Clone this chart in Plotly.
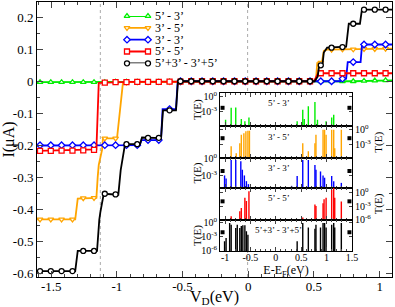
import plotly.graph_objects as go

FONT = "Liberation Serif"

# ---------------- main panel data ----------------
SERIES = ["5’ - 3’", "3’ - 5’", "3’ - 3’", "5’ - 5’", "5’+3’ - 3’+5’"]
COLORS = ["#00ee00", "#ffa500", "#0000ff", "#ff0000", "#000000"]
SYMBOLS = ["triangle-up", "triangle-down", "diamond", "square", "circle"]

# bias values where markers are drawn
V_MARK = [-1.585, -1.503, -1.421, -1.338, -1.256, -1.174, -1.092, -1.010, -0.927, -0.845,
          -0.763, -0.681, -0.599, -0.516, -0.434, -0.352, -0.270, -0.188, -0.105, -0.023,
          0.059, 0.141, 0.223, 0.306, 0.388, 0.470, 0.552, 0.634, 0.717, 0.799,
          0.881, 0.963, 1.045]

I_MARK_53 = [-0.003, -0.003, -0.003, -0.003, -0.003, -0.003, -0.003, -0.002, -0.002, -0.002,
             -0.002, -0.002, -0.001, -0.001, -0.001, -0.001, -0.001, 0.0, 0.0, 0.0,
             0.0, 0.0, 0.0, 0.0, 0.0, 0.0, 0.0, 0.0, 0.0, 0.0,
             0.001, 0.002, 0.003]
I_MARK_35 = [-0.432, -0.432, -0.432, -0.432, -0.366, -0.365, -0.179, -0.179, -0.004, -0.003,
             -0.003, -0.002, -0.002, -0.002, -0.001, -0.001, 0.0, 0.0, 0.0, 0.0,
             0.0, 0.0, 0.0, 0.0, 0.0, 0.0, 0.058, 0.099, 0.100, 0.100,
             0.101, 0.101, 0.102]
I_MARK_33 = [-0.200, -0.200, -0.200, -0.200, -0.200, -0.200, -0.200, -0.200, -0.200, -0.200,
             -0.184, -0.184, -0.087, 0.0, 0.0, 0.0, 0.0, 0.0, 0.0, 0.0,
             0.0, 0.0, 0.0, 0.0, 0.0, 0.0, 0.0, 0.0, 0.008, 0.060,
             0.115, 0.115, 0.115]
I_MARK_55 = [-0.218, -0.218, -0.217, -0.217, -0.216, -0.215, -0.004, -0.003, -0.003, -0.002,
             -0.002, -0.002, -0.001, -0.001, 0.0, 0.0, 0.0, 0.0, 0.0, 0.0,
             0.0, 0.0, 0.0, 0.0, 0.0, 0.0, 0.025, 0.025, 0.025, 0.025,
             0.025, 0.025, 0.025]
I_MARK_ALL = [-0.594, -0.594, -0.594, -0.594, -0.531, -0.531, -0.352, -0.354, -0.197, -0.197,
              -0.177, -0.177, -0.091, 0.0, 0.0, 0.0, 0.0, 0.0, 0.0, 0.0,
              0.0, 0.0, 0.0, 0.0, 0.0, 0.0, 0.050, 0.105, 0.107, 0.180,
              0.224, 0.224, 0.224]

# full I-V curves
V_53 = [-1.61, -0.5, 0.5, 0.8, 1.094]
I_53 = [-0.003, -0.001, 0.0, 0.0, 0.003]

V_35 = [-1.61, -1.317, -1.298, -1.156, -1.146, -1.138, -1.113, -1.106, -0.999, -0.954,
        -0.9, 0.50, 0.515, 0.525, 0.56, 0.575, 0.597, 1.094]
I_35 = [-0.432, -0.432, -0.367, -0.365, -0.30, -0.262, -0.215, -0.179, -0.179, -0.005,
        -0.003, 0.0, 0.003, 0.057, 0.058, 0.095, 0.099, 0.102]

V_33 = [-1.61, -0.826, -0.812, -0.664, -0.652, -0.550, -0.537, 0.70, 0.711, 0.745,
        0.757, 0.855, 0.866, 1.094]
I_33 = [-0.201, -0.200, -0.184, -0.184, -0.087, -0.087, 0.0, 0.0, 0.008, 0.008,
        0.060, 0.060, 0.115, 0.115]

V_55 = [-1.61, -1.17, -1.156, -1.138, -0.9, 0.50, 0.515, 0.522, 0.532, 1.094]
I_55 = [-0.218, -0.215, -0.213, -0.005, -0.002, 0.0, 0.012, 0.013, 0.025, 0.025]

V_ALL = [-1.61, -1.317, -1.298, -1.151, -1.134, -1.126, -1.100, -0.989, -0.971, -0.938,
         -0.824, -0.809, -0.664, -0.649, -0.550, -0.535, 0.505, 0.52, 0.528, 0.54,
         0.565, 0.575, 0.59, 0.60, 0.745, 0.765, 0.85, 0.865, 1.094]
I_ALL = [-0.594, -0.594, -0.531, -0.531, -0.434, -0.41, -0.352, -0.355, -0.278, -0.197,
         -0.197, -0.176, -0.178, -0.091, -0.091, 0.0, 0.0, 0.012, 0.014, 0.050,
         0.052, 0.090, 0.100, 0.105, 0.108, 0.180, 0.180, 0.224, 0.224]

V_LINES = [V_53, V_35, V_33, V_55, V_ALL]
I_LINES = [I_53, I_35, I_33, I_55, I_ALL]
I_MARKS = [I_MARK_53, I_MARK_35, I_MARK_33, I_MARK_55, I_MARK_ALL]

V_DOTTED = [-1.126, -0.005]

X_TICKS = [-1.5, -1.0, -0.5, 0.0, 0.5, 1.0]
X_TICKTEXT = ["-1.5", "-1", "-0.5", "0", "0.5", "1"]
Y_TICKS = [-0.6, -0.5, -0.4, -0.3, -0.2, -0.1, 0.0, 0.1, 0.2]
Y_TICKTEXT = ["-0.6", "-0.5", "-0.4", "-0.3", "-0.2", "-0.1", "0", "0.1", "0.2"]

# ---------------- inset: transmission spectra ----------------
P1_E = [-0.99, -0.88, -0.79, -0.68, -0.61, -0.53, 0.42, 0.53, 0.56, 0.64, 0.77, 0.82, 0.99, 1.10, 1.14]
P1_T = [2e-5, 5e-3, 6e-3, 3e-5, 1e-5, 6e-5, 1e-5, 2e-3, 3e-5, 1e-2, 7e-2, 2e-5, 1e-5, 6e-5, 2e-4]

P2_E = [-0.88, -0.78, -0.71, -0.68, -0.63, -0.59, -0.55, -0.52, 0.53, 0.64, 0.77, 0.79,
        0.93, 0.96, 0.99, 1.10, 1.14, 1.16, 1.29]
P2_T = [5e-4, 2e-5, 2e-3, 0.1, 0.2, 0.5, 0.6, 0.6, 2e-3, 5e-5, 2e-3, 0.1,
        1.0, 1.0, 0.1, 1.0, 1.0, 2e-4, 1.0]

P3_E = [-1.01, -0.98, -0.88, -0.79, -0.69, -0.66, -0.62, -0.58, -0.54, 0.31, 0.42, 0.53,
        0.64, 0.77, 0.79, 0.88, 0.93, 0.96, 1.10, 1.14, 1.29]
P3_T = [1e-3, 3e-4, 0.5, 0.5, 0.3, 1e-2, 1e-3, 1e-4, 3e-5, 1.5e-5, 8e-4, 0.5,
        0.5, 0.07, 1e-2, 5e-3, 1e-3, 4e-4, 8e-4, 1e-4, 5e-5]

P4_E = [-0.88, -0.71, -0.68, -0.61, -0.58, -0.53, 0.53, 0.77, 0.79, 0.93, 0.95, 0.99,
        1.10, 1.14, 1.16, 1.29]
P4_T = [6e-6, 8e-5, 4e-4, 0.08, 0.015, 2.3, 3e-6, 2.5e-3, 1.2e-3, 5e-3, 0.04, 0.08,
        5.0, 12.0, 0.08, 0.012]

P5_E = [-1.01, -0.98, -0.91, -0.88, -0.79, -0.76, -0.71, -0.68, -0.65, -0.61, -0.58, -0.55,
        0.42, 0.53, 0.64, 0.77, 0.79, 0.88, 0.93, 0.96, 0.99, 1.10, 1.14, 1.16, 1.29]
P5_T = [1e-4, 5e-4, 1.0, 0.4, 0.08, 0.4, 0.08, 0.2, 0.3, 0.3, 0.015, 2.5e-3,
        1e-4, 1.0, 0.1, 0.05, 0.4, 0.1, 1.0, 1.0, 0.1, 0.4, 1.0, 0.1, 1.0]

PANEL_E = [P1_E, P2_E, P3_E, P4_E, P5_E]
PANEL_T = [P1_T, P2_T, P3_T, P4_T, P5_T]
PANEL_LOGRANGE = [[-6.0, 0.66], [-5.66, 0.68], [-5.2, 0.05], [-6.0, 1.1], [-6.2, 0.7]]
PANEL_SIDE = ["left", "right", "left", "right", "left"]
PANEL_TICKVALS = [[1, 1e-3], [1, 1e-3], [1, 1e-3], [1, 1e-3, 1e-6], [1, 1e-3, 1e-6]]
PANEL_TICKTEXT = [["10<sup>0</sup>", "10<sup>-3</sup>"]] * 3 + [["10<sup>0</sup>", "10<sup>-3</sup>", "10<sup>-6</sup>"]] * 2
EDGE_E = [-1.05, 1.45]
EDGE_T = [5e-3, 2e-2, 6e-3, 1.3e-2, 9e-3]
E_TICKS = [-1.0, -0.5, 0.0, 0.5, 1.0, 1.5]
E_TICKTEXT = ["-1", "-0.5", "0", "0.5", "1", "1.5"]

# ---------------- layout geometry (paper fractions) ----------------
INSET_X = [0.5155, 0.8873]
PANEL_DOM = [[0.548, 0.669], [0.4327, 0.548], [0.3236, 0.4327], [0.2084, 0.3236], [0.0935, 0.2084]]

fig = go.Figure()

# main curves
for k in range(5):
    fig.add_trace(go.Scatter(x=V_LINES[k], y=I_LINES[k], mode="lines",
                             line=dict(color=COLORS[k], width=1.8),
                             showlegend=False, hoverinfo="skip", xaxis="x", yaxis="y"))
    fig.add_trace(go.Scatter(x=V_MARK, y=I_MARKS[k], mode="markers",
                             marker=dict(symbol=SYMBOLS[k], size=5, color="white",
                                         line=dict(color=COLORS[k], width=1.3)),
                             showlegend=False, xaxis="x", yaxis="y"))

# manual legend (axis x7/y7): row index per series
for k, name in enumerate(SERIES):
    fig.add_trace(go.Scatter(x=[0, 1], y=[k, k], mode="lines+markers",
                             line=dict(color=COLORS[k], width=1.8),
                             marker=dict(symbol=SYMBOLS[k], size=5, color="white",
                                         line=dict(color=COLORS[k], width=1.3)),
                             cliponaxis=False,
                             showlegend=False, xaxis="x7", yaxis="y7"))

# inset spikes
for p in range(5):
    xs, ys = [], []
    floor = 10 ** (PANEL_LOGRANGE[p][0] - 1)
    for e, t in zip(PANEL_E[p], PANEL_T[p]):
        xs += [e, e, None]
        ys += [floor, t, None]
    ax = str(p + 2)
    fig.add_trace(go.Scatter(x=xs, y=ys, mode="lines",
                             line=dict(color=COLORS[p], width=1.4),
                             showlegend=False, xaxis="x" + ax, yaxis="y" + ax))
    fig.add_trace(go.Scatter(x=EDGE_E, y=[EDGE_T[p]] * 2, mode="markers",
                             marker=dict(symbol="square", size=4, color="black"),
                             cliponaxis=False,
                             showlegend=False, xaxis="x" + ax, yaxis="y" + ax))

axis_common = dict(showline=True, linecolor="black", linewidth=1, mirror="ticks",
                   ticks="inside", showgrid=False, zeroline=False, automargin=False,
                   tickfont=dict(family=FONT, size=13, color="black"))

layout = dict(
    width=395, height=307,
    margin=dict(l=37, r=3, t=2, b=30),
    paper_bgcolor="white", plot_bgcolor="rgba(0,0,0,0)",
    showlegend=False,
    xaxis=dict(domain=[0, 1], range=[-1.608, 1.094], tickmode="array",
               tickvals=X_TICKS, ticktext=X_TICKTEXT, ticklen=6, ticklabelstandoff=-3,
               minor=dict(tickmode="linear", tick0=0, dtick=0.1, ticks="inside", ticklen=3),
               title=dict(text="V<sub>D</sub>(eV)", font=dict(family=FONT, size=16, color="black"),
                          standoff=0),
               **axis_common),
    yaxis=dict(domain=[0, 1], range=[-0.6125, 0.248], tickmode="array",
               tickvals=Y_TICKS, ticktext=Y_TICKTEXT, ticklen=6,
               minor=dict(tickmode="linear", tick0=0, dtick=0.05, ticks="inside", ticklen=3),
               title=dict(text="I(μA)", font=dict(family=FONT, size=16, color="black"),
                          standoff=2),
               **axis_common),
    xaxis7=dict(domain=[0.2535, 0.431], range=[0, 3], visible=False, anchor="y7"),
    yaxis7=dict(domain=[0.777, 0.949], range=[4, 0], visible=False, anchor="x7"),
)

inset_common = dict(showline=True, linecolor="black", linewidth=1, mirror="ticks",
                    ticks="inside", showgrid=False, zeroline=False, automargin=False,
                    tickfont=dict(family=FONT, size=10, color="black"))

for p in range(5):
    ax = str(p + 2)
    last = (p == 4)
    xa = dict(domain=INSET_X, range=[-1.1, 1.5], anchor="y" + ax, tickmode="array",
              tickvals=E_TICKS, ticktext=E_TICKTEXT, ticklen=4,
              showticklabels=last, ticklabelstandoff=-3,
              minor=dict(tickmode="linear", tick0=0, dtick=0.1, ticks="inside", ticklen=2),
              **inset_common)
    if last:
        xa["title"] = dict(text="E-E<sub>F</sub>(eV)", font=dict(family=FONT, size=12, color="black"),
                           standoff=0)
    ya = dict(domain=PANEL_DOM[p], type="log", range=PANEL_LOGRANGE[p], anchor="x" + ax,
              side=PANEL_SIDE[p], tickmode="array", tickvals=PANEL_TICKVALS[p],
              ticktext=PANEL_TICKTEXT[p], ticklen=3, **inset_common)
    layout["xaxis" + ax] = xa
    layout["yaxis" + ax] = ya

fig.update_layout(**layout)

# dotted guide lines, then opaque inset background
shapes = []
for v in V_DOTTED:
    shapes.append(dict(type="line", xref="x", yref="paper", x0=v, x1=v, y0=0, y1=1,
                       line=dict(color="#aaaaaa", width=1, dash="dot"), layer="below"))
shapes.append(dict(type="rect", xref="paper", yref="paper", x0=INSET_X[0], x1=INSET_X[1],
                   y0=PANEL_DOM[4][0], y1=PANEL_DOM[0][1], fillcolor="white",
                   line=dict(width=0), layer="below"))
fig.update_layout(shapes=shapes)

# annotations: legend texts, panel labels, T(E) labels
ann = []
for k, name in enumerate(SERIES):
    ann.append(dict(text=name, xref="x7", yref="y7", x=1.22, y=k, xanchor="left",
                    yanchor="middle", showarrow=False,
                    font=dict(family=FONT, size=12, color="black")))
for p in range(5):
    ann.append(dict(text=SERIES[p], xref="paper", yref="paper",
                    x=(INSET_X[0] + INSET_X[1]) / 2 - 0.02, y=PANEL_DOM[p][1] - 0.012,
                    xanchor="center", yanchor="top", showarrow=False,
                    font=dict(family=FONT, size=9, color="black")))
    if PANEL_SIDE[p] == "left":
        tx = 0.452
    else:
        tx = 0.962
    ann.append(dict(text="T(E)", xref="paper", yref="paper", x=tx,
                    y=(PANEL_DOM[p][0] + PANEL_DOM[p][1]) / 2, textangle=-90,
                    xanchor="center", yanchor="middle", showarrow=False,
                    font=dict(family=FONT, size=11, color="black")))
fig.update_layout(annotations=ann)

fig.write_html("out.html", config={"displayModeBar": False},
               post_script="document.body.style.margin='0';document.body.style.padding='0';")
